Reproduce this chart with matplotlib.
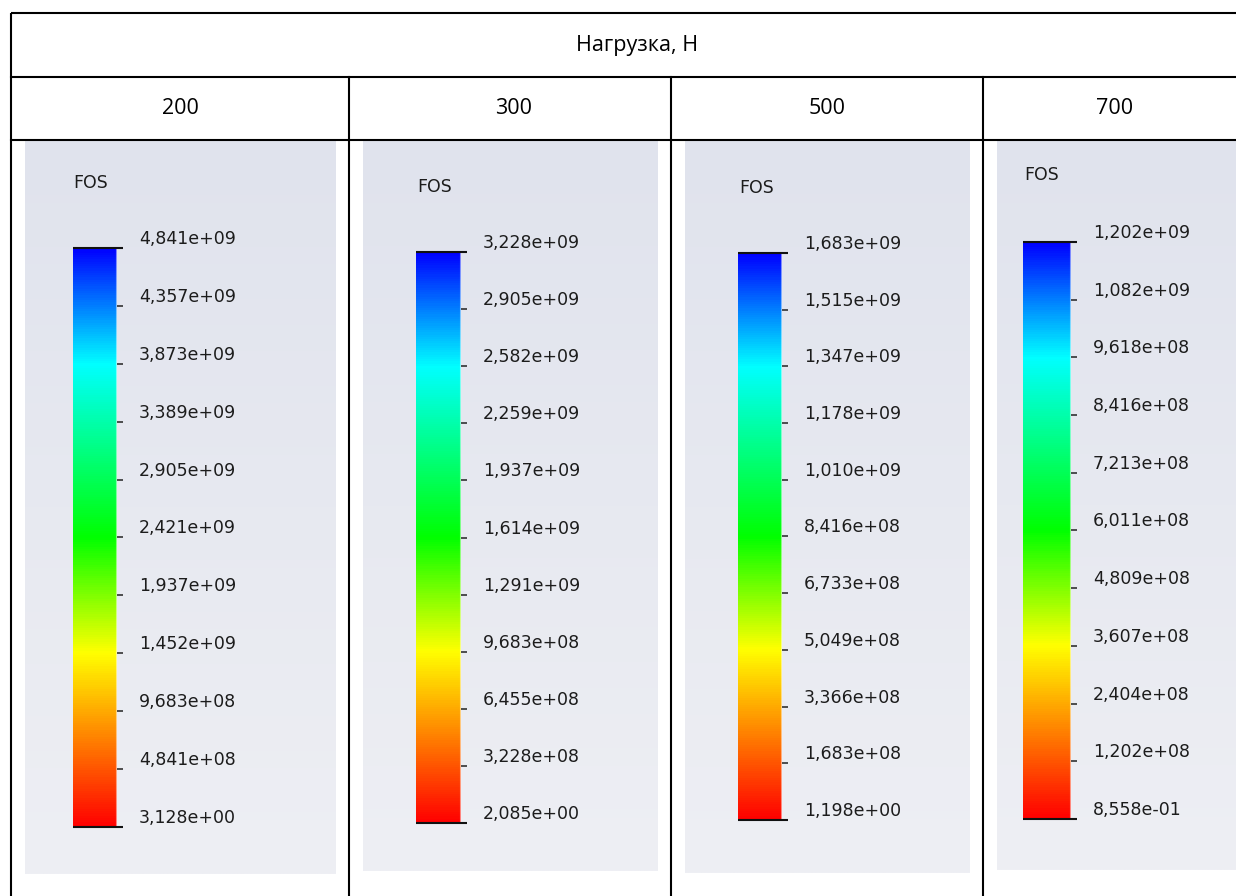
import numpy as np
import matplotlib
matplotlib.use("Agg")
import matplotlib.pyplot as plt
from matplotlib.colors import LinearSegmentedColormap, Normalize
from matplotlib.cm import ScalarMappable
import matplotlib.transforms as mtransforms

# ---------------- data ----------------
header_title = "Нагрузка, Н"
loads = [200, 300, 500, 700]
scale_title = "FOS"
fos_200 = [4.841e9, 4.357e9, 3.873e9, 3.389e9, 2.905e9, 2.421e9, 1.937e9, 1.452e9, 9.683e8, 4.841e8, 3.128]
fos_300 = [3.228e9, 2.905e9, 2.582e9, 2.259e9, 1.937e9, 1.614e9, 1.291e9, 9.683e8, 6.455e8, 3.228e8, 2.085]
fos_500 = [1.683e9, 1.515e9, 1.347e9, 1.178e9, 1.010e9, 8.416e8, 6.733e8, 5.049e8, 3.366e8, 1.683e8, 1.198]
fos_700 = [1.202e9, 1.082e9, 9.618e8, 8.416e8, 7.213e8, 6.011e8, 4.809e8, 3.607e8, 2.404e8, 1.202e8, 0.8558]
fos_ticks = [fos_200, fos_300, fos_500, fos_700]

# ---------------- layout (pixels) ----------------
W, H = 1236, 896
fig = plt.figure(figsize=(W / 100, H / 100), dpi=100)
fig.patch.set_facecolor("white")
ax = fig.add_axes([0, 0, 1, 1])
ax.set_xlim(0, W)
ax.set_ylim(H, 0)
ax.axis("off")

# table layout
tbl_left, tbl_top = 11, 13
row1_bottom, row2_bottom = 77, 140
col_div = [349, 671, 983]
header_x = 637
col_label_x = [180, 514, 827, 1115]

# panels (x0, x1, y0, y1)
panels = [(25, 336, 141, 874), (363, 658, 141, 871), (685, 970, 141, 873), (997, 1236, 141, 870)]
# colorbars (x0, x1, y_top, y_bottom)
bars = [(73, 117, 248, 827), (416, 461, 252, 823), (738, 782, 253, 820), (1023, 1071, 242, 819)]
fos_pos = [(73, 183), (417, 187), (739, 188), (1024, 175)]

# background gradients
grad = np.linspace(0, 1, 256)[:, None]
c_top = np.array([224, 227, 237]) / 255
c_bot = np.array([238, 239, 244]) / 255
bg = c_top[None, None, :] * (1 - grad[..., None]) + c_bot[None, None, :] * grad[..., None]
for (x0, x1, y0, y1) in panels:
    ax.imshow(bg, extent=(x0, x1, y1, y0), aspect="auto", interpolation="bilinear", zorder=1)
ax.set_xlim(0, W)
ax.set_ylim(H, 0)

# table lines
lw = 1.5
lc = "black"
ax.plot([tbl_left, W], [tbl_top, tbl_top], color=lc, lw=lw, zorder=5, solid_capstyle="butt")
ax.plot([tbl_left, tbl_left], [tbl_top, H], color=lc, lw=lw, zorder=5, solid_capstyle="butt")
ax.plot([tbl_left, W], [row1_bottom, row1_bottom], color=lc, lw=lw, zorder=5)
ax.plot([tbl_left, W], [row2_bottom, row2_bottom], color=lc, lw=lw, zorder=5)
for xd in col_div:
    ax.plot([xd, xd], [row1_bottom, H], color=lc, lw=lw, zorder=5)

hdr_font = ["Open Sans", "DejaVu Sans"]
ax.text(header_x, 45, header_title, ha="center", va="center", fontsize=15.5,
        family=hdr_font, color="black", zorder=6)
for x, ld in zip(col_label_x, loads):
    ax.text(x, 108, str(ld), ha="center", va="center", fontsize=15.5,
            family=hdr_font, color="black", zorder=6)

# colormap like SolidWorks
cmap = LinearSegmentedColormap.from_list(
    "sw", [(0.0, "#ff0000"), (0.15, "#ff8000"), (0.3, "#ffff00"), (0.5, "#00ff00"),
           (0.8, "#00ffff"), (1.0, "#0000ff")])

lab_font = ["DejaVu Sans"]
txt_col = "#1c1c1c"


def fmt(v):
    return f"{v:.3e}".replace(".", ",")


for (bx0, bx1, by0, by1), ticks, (fx, fy) in zip(bars, fos_ticks, fos_pos):
    ax.text(fx, fy, scale_title, ha="left", va="center", fontsize=12.5,
            family=lab_font, color=txt_col, zorder=6)
    cax = fig.add_axes([bx0 / W, 1 - by1 / H, (bx1 - bx0) / W, (by1 - by0) / H])
    vmin, vmax = min(ticks), max(ticks)
    sm = ScalarMappable(norm=Normalize(vmin=vmin, vmax=vmax), cmap=cmap)
    cb = fig.colorbar(sm, cax=cax, ticks=ticks)
    cb.outline.set_visible(False)
    cax.yaxis.set_ticks_position("right")
    cax.tick_params(axis="y", direction="out", length=4.3, width=1.1, color="#222222",
                    labelright=False, labelleft=False)
    cax.set_yticklabels([])
    # faint light edge on the right of the bar
    cax.axvline(0.985, color="white", lw=0.8, alpha=0.5)
    trans = mtransforms.blended_transform_factory(cax.transAxes, cax.transData)
    ext = 1 + 6.0 / (bx1 - bx0)
    for v in (vmin, vmax):
        cax.plot([0, ext], [v, v], color="#111111", lw=1.5, transform=trans, clip_on=False,
                 solid_capstyle="butt")
    ttrans = mtransforms.offset_copy(trans, fig=fig, x=22, y=9, units="dots")
    for v in ticks:
        cax.text(1.0, v, fmt(v), transform=ttrans, ha="left", va="center",
                 fontsize=12.5, family=lab_font, color=txt_col)

fig.savefig("out.png", dpi=100, facecolor="white")
